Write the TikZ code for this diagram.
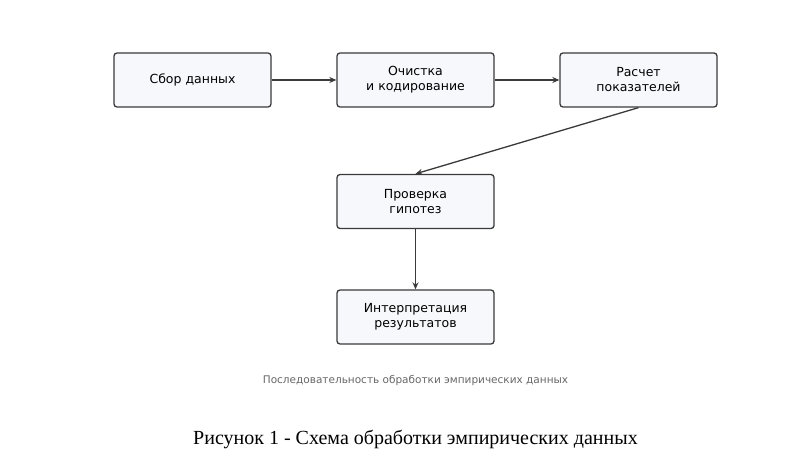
\documentclass[tikz,border=0pt]{standalone}
\usepackage{fontspec}
\setmainfont{DejaVu Sans}
\newfontfamily\capfont{Liberation Serif}
\usetikzlibrary{arrows.meta}
\definecolor{boxfill}{HTML}{F7F8FC}
\definecolor{boxline}{HTML}{3A3A3A}
\begin{document}
\begin{tikzpicture}[x=1pt,y=-1pt,
  box/.style={draw=boxline,fill=boxfill,line width=1.3pt,rounded corners=3pt,minimum width=157pt,minimum height=54pt,align=center,font=\fontsize{12.5}{15}\selectfont,inner sep=0pt},
  arr/.style={draw=boxline,line width=1.3pt,-{Stealth[length=7pt,width=6pt]}}]
\useasboundingbox (0,0) rectangle (812,457);
\node[box] (a) at (192.5,80) {Сбор данных};
\node[box] (b) at (415.5,80) {Очистка\\и кодирование};
\node[box] (c) at (638.5,80) {Расчет\\показателей};
\node[box] (d) at (415.5,201.5) {Проверка\\гипотез};
\node[box] (e) at (415.5,317) {Интерпретация\\результатов};
\draw[arr] (a) -- (b);
\draw[arr] (b) -- (c);
\draw[arr] (c.south) -- (d.north);
\draw[arr] (d) -- (e);
\node[font=\fontsize{10.5}{12}\selectfont,text=black!60] (t) at (415.5,381) {Последовательность обработки эмпирических данных};
\node[font=\capfont\fontsize{20}{24}\selectfont] (f) at (415.5,439) {Рисунок 1 - Схема обработки эмпирических данных};
\end{tikzpicture}
\end{document}
